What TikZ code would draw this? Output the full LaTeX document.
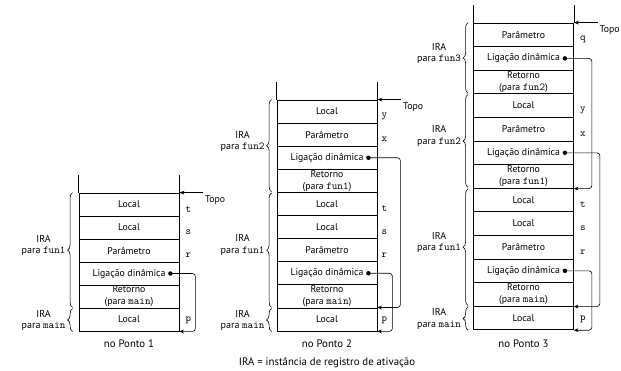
\documentclass[tikz,border=0pt]{standalone}
\usepackage{fontspec}
\setmainfont{PT Sans}
\usetikzlibrary{arrows.meta,decorations.pathreplacing,calc}
\begin{document}
\begin{tikzpicture}[x=1pt,y=-1pt,
  txt/.style={font=\fontsize{9.8}{12}\selectfont},
  cell/.style={draw, line width=0.8pt, minimum width=100pt, inner sep=0pt, align=center, txt},
  var/.style={font=\ttfamily\fontsize{10.5}{10}\selectfont, inner sep=0pt},
  frame/.style={line width=0.8pt},
  dotn/.style={circle, fill, inner sep=0pt, minimum size=4.5pt},
  link/.style={line width=0.6pt, rounded corners=3pt, -{Stealth[length=4.5pt,width=3.8pt]}},
  topo/.style={line width=0.6pt, -{Stealth[length=5pt,width=3.8pt]}},
  brc/.style={decorate, decoration={brace, amplitude=5pt}, line width=0.6pt},
  ira/.style={align=center, inner sep=0pt, font=\fontsize{10}{11.5}\selectfont, anchor=east},
  captxt/.style={font=\fontsize{10.8}{12}\selectfont, inner sep=0pt}
]
\newcommand{\mt}[1]{{\ttfamily\fontsize{10.6}{12}\selectfont #1}}
\useasboundingbox (0,0) rectangle (621,370);

% ---------------- Stack 1 ----------------
\node[cell, minimum height=23pt] (a1) at (129,204.5) {Local};
\node[cell, minimum height=23pt] (a2) at (129,227.5) {Local};
\node[cell, minimum height=23pt] (a3) at (129,250.5) {Parâmetro};
\node[cell, minimum height=23pt] (a4) at (129,273.5) {Ligação dinâmica};
\node[cell, minimum height=23pt] (a5) at (129,296.5) {Retorno\\(para \mt{main})};
\node[cell, minimum height=23pt] (a6) at (129,319.5) {Local};
\draw[frame] (a1.north west) -- ++(0,-18);
\draw[frame] (a1.north east) -- ++(0,-18);
\node[var] (va1) at ([xshift=9pt,yshift=-5pt]a1.east) {t};
\node[var] (va2) at ([xshift=9pt,yshift=-5pt]a2.east) {s};
\node[var] (va3) at ([xshift=9pt,yshift=-5pt]a3.east) {r};
\node[var] (va6) at ([xshift=9pt,yshift=-1pt]a6.east) {p};
\coordinate (ta) at ([xshift=24pt]a1.north east);
\draw[topo] (ta) -- (a1.north east);
\node[txt, anchor=west, inner sep=0pt] (tla) at ([xshift=1.5pt,yshift=-7pt]ta) {Topo};
\node[dotn] (da) at ([xshift=-9pt]a4.east) {};
\draw[link] (da.center) -| ([xshift=16pt]a6.south east) -- (a6.south east);
\draw[brc] ([xshift=-6pt,yshift=1pt]a5.south west) -- ([xshift=-6pt]a1.north west);
\draw[brc] ([xshift=-6pt]a6.south west) -- ([xshift=-6pt,yshift=-1pt]a6.north west);
\node[ira] (la1) at ($([xshift=-13pt]a1.north west)!0.5!([xshift=-13pt]a5.south west)+(0,-5)$) {IRA\\para \mt{fun1}};
\node[ira] (la6) at ($([xshift=-13pt]a6.west)+(0,1)$) {IRA\\para \mt{main}};
\node[captxt] (ca) at (129,344) {no Ponto 1};

% ---------------- Stack 2 ----------------
\node[cell, minimum height=23.1pt] (b1) at (327,111.55) {Local};
\node[cell, minimum height=23.1pt] (b2) at (327,134.65) {Parâmetro};
\node[cell, minimum height=23.1pt] (b3) at (327,157.75) {Ligação dinâmica};
\node[cell, minimum height=23.1pt] (b4) at (327,180.85) {Retorno\\(para \mt{fun1})};
\node[cell, minimum height=23.1pt] (b5) at (327,203.95) {Local};
\node[cell, minimum height=23.1pt] (b6) at (327,227.05) {Local};
\node[cell, minimum height=23.1pt] (b7) at (327,250.15) {Parâmetro};
\node[cell, minimum height=23.1pt] (b8) at (327,273.25) {Ligação dinâmica};
\node[cell, minimum height=23.1pt] (b9) at (327,296.35) {Retorno\\(para \mt{main})};
\node[cell, minimum height=23.1pt] (b10) at (327,319.45) {Local};
\draw[frame] (b1.north west) -- ++(0,-18);
\draw[frame] (b1.north east) -- ++(0,-18);
\node[var] (vb1) at ([xshift=7pt,yshift=-5pt]b1.east) {y};
\node[var] (vb2) at ([xshift=7pt,yshift=-5pt]b2.east) {x};
\node[var] (vb5) at ([xshift=7pt,yshift=-5pt]b5.east) {t};
\node[var] (vb6) at ([xshift=7pt,yshift=-5pt]b6.east) {s};
\node[var] (vb7) at ([xshift=7pt,yshift=-5pt]b7.east) {r};
\node[var] (vb10) at ([xshift=7pt,yshift=-1pt]b10.east) {p};
\coordinate (tb) at ([xshift=24pt]b1.north east);
\draw[topo] (tb) -- (b1.north east);
\node[txt, anchor=west, inner sep=0pt] (tlb) at ([xshift=1.5pt,yshift=-7pt]tb) {Topo};
\node[dotn] (db3) at ([xshift=-9pt]b3.east) {};
\node[dotn] (db8) at ([xshift=-9pt]b8.east) {};
\draw[link] (db3.center) -| ([xshift=23pt]b10.north east) -- (b10.north east);
\draw[link] (db8.center) -| ([xshift=15pt]b10.south east) -- (b10.south east);
\draw[brc] ([xshift=-5pt,yshift=1pt]b4.south west) -- ([xshift=-5pt]b1.north west);
\draw[brc] ([xshift=-5pt,yshift=1pt]b9.south west) -- ([xshift=-5pt,yshift=-1pt]b5.north west);
\draw[brc] ([xshift=-5pt]b10.south west) -- ([xshift=-5pt,yshift=-1pt]b10.north west);
\node[ira] (lb1) at ($([xshift=-12pt]b1.north west)!0.5!([xshift=-12pt]b4.south west)+(0,-5)$) {IRA\\para \mt{fun2}};
\node[ira] (lb5) at ($([xshift=-12pt]b5.north west)!0.5!([xshift=-12pt]b9.south west)+(0,-5)$) {IRA\\para \mt{fun1}};
\node[ira] (lb10) at ($([xshift=-12pt]b10.west)+(0,1)$) {IRA\\para \mt{main}};
\node[captxt] (cb) at (327,344) {no Ponto 2};

% ---------------- Stack 3 ----------------
\node[cell, minimum height=23.6pt] (c1) at (523.5,34.8) {Parâmetro};
\node[cell, minimum height=23.6pt] (c2) at (523.5,58.4) {Ligação dinâmica};
\node[cell, minimum height=23.6pt] (c3) at (523.5,82.0) {Retorno\\(para \mt{fun2})};
\node[cell, minimum height=23.6pt] (c4) at (523.5,105.6) {Local};
\node[cell, minimum height=23.6pt] (c5) at (523.5,129.2) {Parâmetro};
\node[cell, minimum height=23.6pt] (c6) at (523.5,152.8) {Ligação dinâmica};
\node[cell, minimum height=23.6pt] (c7) at (523.5,176.4) {Retorno\\(para \mt{fun1})};
\node[cell, minimum height=23.6pt] (c8) at (523.5,200.0) {Local};
\node[cell, minimum height=23.6pt] (c9) at (523.5,223.6) {Local};
\node[cell, minimum height=23.6pt] (c10) at (523.5,247.2) {Parâmetro};
\node[cell, minimum height=23.6pt] (c11) at (523.5,270.8) {Ligação dinâmica};
\node[cell, minimum height=23.6pt] (c12) at (523.5,294.4) {Retorno\\(para \mt{main})};
\node[cell, minimum height=23.6pt] (c13) at (523.5,318.0) {Local};
\draw[frame] (c1.north west) -- ++(0,-18);
\draw[frame] (c1.north east) -- ++(0,-18);
\node[var] (vc1) at ([xshift=9pt,yshift=-5pt]c1.east) {q};
\node[var] (vc4) at ([xshift=9pt,yshift=-5pt]c4.east) {y};
\node[var] (vc5) at ([xshift=9pt,yshift=-5pt]c5.east) {x};
\node[var] (vc8) at ([xshift=9pt,yshift=-5pt]c8.east) {t};
\node[var] (vc9) at ([xshift=9pt,yshift=-5pt]c9.east) {s};
\node[var] (vc10) at ([xshift=9pt,yshift=-5pt]c10.east) {r};
\node[var] (vc13) at ([xshift=9pt,yshift=-1pt]c13.east) {p};
\coordinate (tc) at ([xshift=24pt]c1.north east);
\draw[topo] (tc) -- (c1.north east);
\node[txt, anchor=west, inner sep=0pt] (tlc) at ([xshift=1.5pt,yshift=-7pt]tc) {Topo};
\node[dotn] (dc2) at ([xshift=-9pt]c2.east) {};
\node[dotn] (dc6) at ([xshift=-9pt]c6.east) {};
\node[dotn] (dc11) at ([xshift=-9pt]c11.east) {};
\draw[link] (dc2.center) -| ([xshift=18pt]c7.south east) -- (c7.south east);
\draw[link] (dc6.center) -| ([xshift=26pt]c12.south east) -- (c12.south east);
\draw[link] (dc11.center) -| ([xshift=18pt]c13.south east) -- (c13.south east);
\draw[brc] ([xshift=-5pt,yshift=1pt]c3.south west) -- ([xshift=-5pt]c1.north west);
\draw[brc] ([xshift=-5pt,yshift=1pt]c7.south west) -- ([xshift=-5pt,yshift=-1pt]c4.north west);
\draw[brc] ([xshift=-5pt,yshift=1pt]c12.south west) -- ([xshift=-5pt,yshift=-1pt]c8.north west);
\draw[brc] ([xshift=-5pt]c13.south west) -- ([xshift=-5pt,yshift=-1pt]c13.north west);
\node[ira] (lc1) at ($([xshift=-12pt]c1.north west)!0.5!([xshift=-12pt]c3.south west)+(0,-5)$) {IRA\\para \mt{fun3}};
\node[ira] (lc4) at ($([xshift=-12pt]c4.north west)!0.5!([xshift=-12pt]c7.south west)+(0,-5)$) {IRA\\para \mt{fun2}};
\node[ira] (lc8) at ($([xshift=-12pt]c8.north west)!0.5!([xshift=-12pt]c12.south west)+(0,-5)$) {IRA\\para \mt{fun1}};
\node[ira] (lc13) at ($([xshift=-12pt]c13.west)+(0,1)$) {IRA\\para \mt{main}};
\node[captxt] (cc) at (523.5,344) {no Ponto 3};

\node[captxt] (foot) at (327,363) {IRA = instância de registro de ativação};
\end{tikzpicture}
\end{document}
